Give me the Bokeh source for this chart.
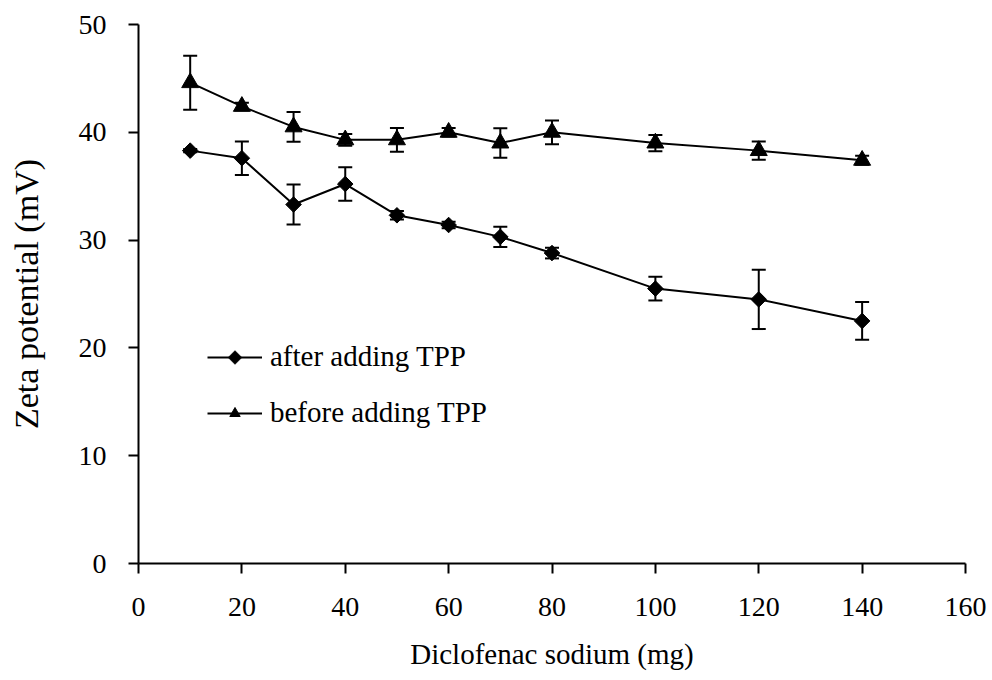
import numpy as np
from bokeh.plotting import figure
from bokeh.models import (ColumnDataSource, Whisker, TeeHead, Legend, LegendItem, Range1d,
                          FixedTicker, PolyAnnotation)
from bokeh.embed import file_html
from bokeh.resources import INLINE

dose = [10, 20, 30, 40, 50, 60, 70, 80, 100, 120, 140]
after_tpp = [38.3, 37.6, 33.3, 35.2, 32.3, 31.4, 30.3, 28.8, 25.5, 24.5, 22.5]
after_err = [0.15, 1.55, 1.85, 1.55, 0.4, 0.3, 0.93, 0.5, 1.1, 2.75, 1.75]
before_tpp = [44.6, 42.4, 40.5, 39.3, 39.3, 40.0, 39.0, 40.0, 39.0, 38.3, 37.4]
before_err = [2.5, 0.35, 1.38, 0.55, 1.1, 0.4, 1.37, 1.1, 0.75, 0.84, 0.42]
x_ticks = [0, 20, 40, 60, 80, 100, 120, 140, 160]
y_ticks = [0, 10, 20, 30, 40, 50]
x_title = "Diclofenac sodium (mg)"
y_title = "Zeta potential (mV)"
labels = ["after adding TPP", "before adding TPP"]

FONT = "Liberation Serif"

src_a = ColumnDataSource(dict(x=dose, y=after_tpp,
                              lo=[v - e for v, e in zip(after_tpp, after_err)],
                              hi=[v + e for v, e in zip(after_tpp, after_err)]))
src_b = ColumnDataSource(dict(x=dose, y=before_tpp,
                              lo=[v - e for v, e in zip(before_tpp, before_err)],
                              hi=[v + e for v, e in zip(before_tpp, before_err)]))

p = figure(width=992, height=680, output_backend="svg", toolbar_location=None,
           frame_width=827, frame_height=539,
           min_border_left=138, min_border_right=27, min_border_top=24, min_border_bottom=117,
           x_range=Range1d(0, 160), y_range=Range1d(0, 50))
p.outline_line_color = None
p.grid.visible = False
p.background_fill_color = "white"
p.border_fill_color = "white"

for ax in (p.xaxis[0], p.yaxis[0]):
    ax.axis_line_color = "black"
    ax.axis_line_width = 2
    ax.major_tick_line_color = "black"
    ax.major_tick_line_width = 2
    ax.major_tick_out = 10
    ax.major_tick_in = 0
    ax.minor_tick_line_color = None
    ax.major_label_text_font = FONT
    ax.major_label_text_font_size = "28px"
    ax.major_label_text_color = "black"
    ax.axis_label_text_font = FONT
    ax.axis_label_text_font_style = "normal"
    ax.axis_label_text_color = "black"

p.xaxis.ticker = FixedTicker(ticks=x_ticks)
p.yaxis.ticker = FixedTicker(ticks=y_ticks)
p.xaxis.major_label_standoff = 24
p.yaxis.major_label_standoff = 22
p.xaxis.axis_label = x_title
p.yaxis.axis_label = y_title
p.xaxis.axis_label_text_font_size = "29px"
p.yaxis.axis_label_text_font_size = "34px"
p.xaxis.axis_label_standoff = 19
p.yaxis.axis_label_standoff = 31

for src in (src_a, src_b):
    w = Whisker(source=src, base="x", lower="lo", upper="hi",
                line_color="black", line_width=2,
                upper_head=TeeHead(size=14, line_color="black", line_width=2),
                lower_head=TeeHead(size=14, line_color="black", line_width=2))
    p.add_layout(w)

la = p.line("x", "y", source=src_a, line_color="black", line_width=2)
sa = p.scatter("x", "y", source=src_a, marker="square", angle=np.pi / 4, size=11,
               fill_color="black", line_color="black")
lb = p.line("x", "y", source=src_b, line_color="black", line_width=2)
sb = p.scatter("x", "y", source=src_b, marker="triangle", size=17,
               fill_color="black", line_color="black")

legend = Legend(items=[LegendItem(label=labels[0], renderers=[la]),
                       LegendItem(label=labels[1], renderers=[lb, sb])],
                location=(69, 134), orientation="vertical",
                glyph_width=55, glyph_height=26, label_height=26, spacing=23,
                label_standoff=8, padding=0, margin=0,
                border_line_alpha=0, background_fill_alpha=0,
                label_text_font=FONT, label_text_font_size="29px", label_text_color="black")
p.add_layout(legend)

# diamond legend symbol (rotated square, like the data markers)
cx, cy, r = 96.5, 206, 7
p.add_layout(PolyAnnotation(xs=[cx, cx + r, cx, cx - r], ys=[cy + r, cy, cy - r, cy],
                            xs_units="screen", ys_units="screen",
                            fill_color="black", fill_alpha=1, line_color="black", line_width=1))

open("out.html", "w").write(file_html(p, INLINE))
